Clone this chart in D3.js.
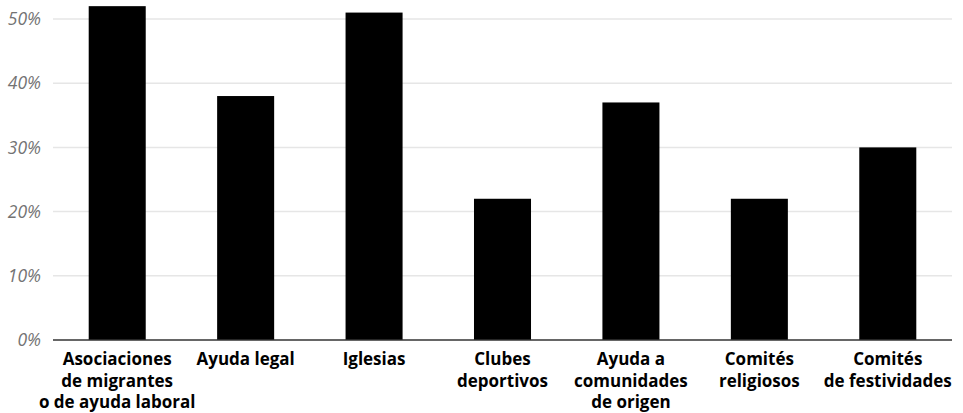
<!DOCTYPE html>
<html>
<head>
<meta charset="utf-8">
<script src="https://cdn.jsdelivr.net/npm/d3@7"></script>
<style>
  html, body { margin: 0; padding: 0; background: #fff; }
  svg { display: block; }
</style>
</head>
<body>
<svg id="chart" width="963" height="413"></svg>
<script>
const categories = [
  ["Asociaciones", "de migrantes", "o de ayuda laboral"],
  ["Ayuda legal"],
  ["Iglesias"],
  ["Clubes", "deportivos"],
  ["Ayuda a", "comunidades", "de origen"],
  ["Comités", "religiosos"],
  ["Comités", "de festividades"]
];
const values = [52, 38, 51, 22, 37, 22, 30];
const yTicks = [0, 10, 20, 30, 40, 50];

const svg = d3.select("#chart");
const left = 53, right = 952, baseY = 340, topY = 19;

const x = d3.scaleBand()
  .domain(d3.range(categories.length))
  .range([left, right])
  .paddingInner(0.556)
  .paddingOuter(0.278);

const y = d3.scaleLinear().domain([0, 50]).range([baseY, topY]);

// gridlines
svg.append("g")
  .selectAll("line")
  .data(yTicks.filter(d => d > 0))
  .join("line")
  .attr("x1", left).attr("x2", right)
  .attr("y1", d => y(d)).attr("y2", d => y(d))
  .attr("stroke", "#e6e6e6")
  .attr("stroke-width", 1.5);

// y tick labels
svg.append("g")
  .selectAll("text")
  .data(yTicks)
  .join("text")
  .attr("x", 41)
  .attr("y", d => y(d))
  .attr("dy", "0.35em")
  .attr("text-anchor", "end")
  .attr("font-family", "'Open Sans', sans-serif")
  .attr("font-style", "italic")
  .attr("font-size", 17.5)
  .attr("fill", "#737373")
  .text(d => d + "%");

// bars
svg.append("g")
  .selectAll("rect")
  .data(values)
  .join("rect")
  .attr("x", (d, i) => x(i))
  .attr("width", x.bandwidth())
  .attr("y", d => y(d))
  .attr("height", d => y(0) - y(d))
  .attr("fill", "#000");

// baseline
svg.append("line")
  .attr("x1", left).attr("x2", right)
  .attr("y1", y(0)).attr("y2", y(0))
  .attr("stroke", "#333")
  .attr("stroke-width", 1.5);

// x labels
const lab = svg.append("g")
  .selectAll("text")
  .data(categories)
  .join("text")
  .attr("x", (d, i) => x(i) + x.bandwidth() / 2)
  .attr("y", 365)
  .attr("text-anchor", "middle")
  .attr("font-family", "'Open Sans', sans-serif")
  .attr("font-weight", "bold")
  .attr("font-size", 17)
  .attr("fill", "#000");

lab.selectAll("tspan")
  .data(d => d)
  .join("tspan")
  .attr("x", function() { return this.parentNode.getAttribute("x"); })
  .attr("dy", (d, i) => i === 0 ? 0 : 21.5)
  .text(d => d);
</script>
</body>
</html>
